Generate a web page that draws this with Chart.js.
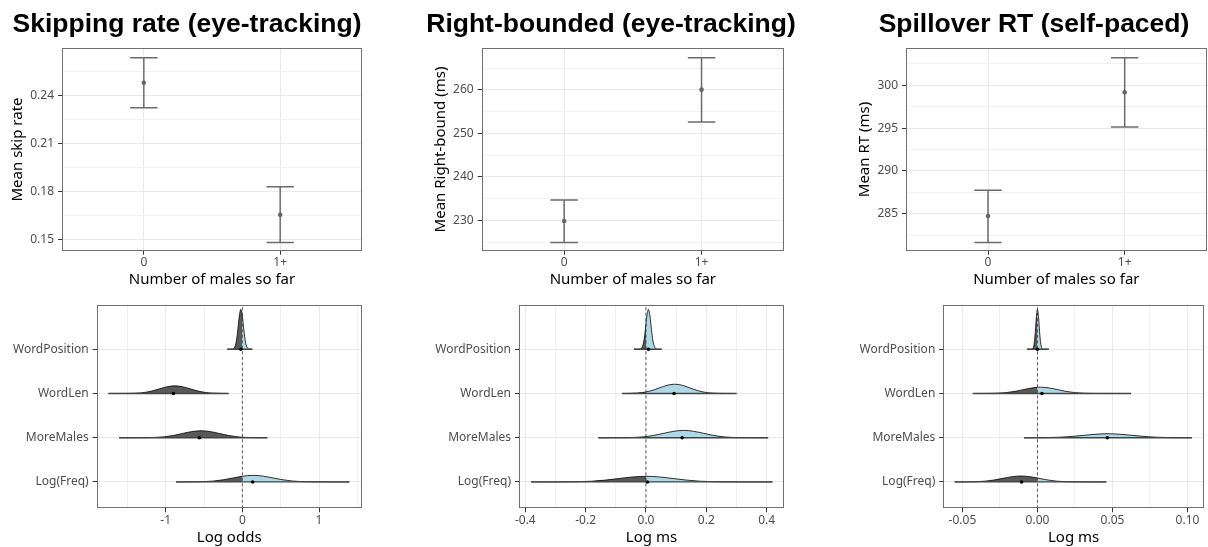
<!DOCTYPE html>
<html>
<head>
<meta charset="utf-8">
<title>Male mentions effects</title>
<script src="https://cdn.jsdelivr.net/npm/chart.js@4.4.1/dist/chart.umd.min.js"></script>
<style>
    html, body { margin: 0; padding: 0; background: #fff; overflow: hidden; }
    body { width: 1208px; height: 547px; position: relative; }
    canvas { position: absolute; }
</style>
</head>
<body>
<canvas id="top1"></canvas>
<canvas id="top2"></canvas>
<canvas id="top3"></canvas>
<canvas id="bot1"></canvas>
<canvas id="bot2"></canvas>
<canvas id="bot3"></canvas>
<script>
// ---- Top row: means with error bars ----
const groups = ['0', '1+'];
const groupPos = [1, 2];

const skipMean = [0.2481, 0.1654];
const skipLow = [0.2325, 0.1481];
const skipHigh = [0.2638, 0.1829];

const rbMean = [229.84, 260.08];
const rbLow = [224.93, 252.63];
const rbHigh = [234.67, 267.44];

const rtMean = [284.73, 299.18];
const rtLow = [281.65, 295.13];
const rtHigh = [287.73, 303.23];

const skipTicks = [0.15, 0.18, 0.21, 0.24];
const skipMinor = [0.165, 0.195, 0.225, 0.255];
const skipTickLabels = ['0.15', '0.18', '0.21', '0.24'];
const rbTicks = [230, 240, 250, 260];
const rbMinor = [225, 235, 245, 255, 265];
const rbTickLabels = ['230', '240', '250', '260'];
const rtTicks = [285, 290, 295, 300];
const rtMinor = [282.5, 287.5, 292.5, 297.5, 302.5];
const rtTickLabels = ['285', '290', '295', '300'];

// ---- Bottom row: posterior densities (x, height above baseline) ----
const terms = ['Log(Freq)', 'MoreMales', 'WordLen', 'WordPosition'];
const termPos = [1, 2, 3, 4];

// skipping rate (log odds)
const skipFreqX = [-0.864, -0.64, -0.51, -0.38, -0.25, -0.12, 0, 0.14, 0.27, 0.40, 0.53, 0.66, 0.79, 0.92, 1.395];
const skipFreqH = [0, 0.002, 0.007, 0.020, 0.049, 0.091, 0.13, 0.15, 0.132, 0.091, 0.049, 0.020, 0.007, 0.002, 0];
const skipMaleX = [-1.607, -1.26, -1.14, -1.02, -0.90, -0.78, -0.66, -0.54, -0.42, -0.30, -0.18, -0.06, 0, 0.06, 0.18, 0.326];
const skipMaleH = [0, 0.002, 0.007, 0.021, 0.051, 0.096, 0.139, 0.158, 0.139, 0.096, 0.051, 0.021, 0.012, 0.007, 0.002, 0];
const skipLenX = [-1.747, -1.48, -1.38, -1.28, -1.18, -1.08, -0.98, -0.88, -0.78, -0.68, -0.58, -0.48, -0.38, -0.28, -0.18];
const skipLenH = [0, 0.002, 0.008, 0.023, 0.056, 0.105, 0.153, 0.173, 0.153, 0.105, 0.056, 0.023, 0.008, 0.002, 0];
const skipPosX = [-0.196, -0.14, -0.12, -0.10, -0.08, -0.06, -0.04, -0.02, 0, 0.02, 0.04, 0.06, 0.08, 0.10, 0.13];
const skipPosH = [0, 0.002, 0.01, 0.048, 0.17, 0.43, 0.75, 0.9, 0.75, 0.43, 0.17, 0.048, 0.01, 0.002, 0];
const skipMedians = [0.135, -0.56, -0.90, -0.02];

// right-bounded (log ms)
const rbFreqX = [-0.381, -0.27, -0.225, -0.18, -0.135, -0.09, -0.045, 0, 0.045, 0.09, 0.135, 0.18, 0.225, 0.27, 0.419];
const rbFreqH = [0, 0.0014, 0.0056, 0.017, 0.042, 0.078, 0.113, 0.128, 0.113, 0.078, 0.042, 0.017, 0.0056, 0.0014, 0];
const rbMaleX = [-0.158, -0.07, -0.0375, -0.005, 0, 0.0275, 0.06, 0.0925, 0.125, 0.1575, 0.19, 0.2225, 0.255, 0.2875, 0.32, 0.405];
const rbMaleH = [0, 0.002, 0.007, 0.022, 0.026, 0.054, 0.101, 0.146, 0.166, 0.146, 0.101, 0.054, 0.022, 0.007, 0.002, 0];
const rbLenX = [-0.079, -0.055, -0.03, -0.005, 0, 0.02, 0.045, 0.07, 0.095, 0.12, 0.145, 0.17, 0.195, 0.22, 0.245, 0.30];
const rbLenH = [0, 0.002, 0.009, 0.028, 0.035, 0.068, 0.127, 0.185, 0.21, 0.185, 0.127, 0.068, 0.028, 0.009, 0.002, 0];
const rbPosX = [-0.04, -0.022, -0.017, -0.012, -0.007, -0.002, 0, 0.003, 0.008, 0.013, 0.018, 0.023, 0.028, 0.033, 0.038, 0.052];
const rbPosH = [0, 0.002, 0.012, 0.057, 0.19, 0.45, 0.58, 0.757, 0.9, 0.757, 0.45, 0.19, 0.057, 0.012, 0.002, 0];
const rbMedians = [0.005, 0.12, 0.093, 0.008];

// spillover RT (log ms)
const rtFreqX = [-0.0552, -0.047, -0.041, -0.035, -0.029, -0.023, -0.017, -0.011, -0.005, 0, 0.001, 0.007, 0.013, 0.019, 0.025, 0.0459];
const rtFreqH = [0, 0.0015, 0.006, 0.018, 0.044, 0.082, 0.119, 0.135, 0.119, 0.089, 0.082, 0.044, 0.018, 0.006, 0.0015, 0];
const rtMaleX = [-0.009, -0.001, 0, 0.007, 0.015, 0.023, 0.031, 0.039, 0.047, 0.055, 0.063, 0.071, 0.079, 0.087, 0.095, 0.103];
const rtMaleH = [0, 0.001, 0.0012, 0.004, 0.012, 0.029, 0.055, 0.079, 0.09, 0.079, 0.055, 0.029, 0.012, 0.004, 0.001, 0];
const rtLenX = [-0.0431, -0.033, -0.027, -0.021, -0.015, -0.0095, -0.004, 0, 0.002, 0.008, 0.0135, 0.019, 0.025, 0.031, 0.037, 0.0624];
const rtLenH = [0, 0.0014, 0.0061, 0.019, 0.048, 0.087, 0.124, 0.141, 0.143, 0.124, 0.087, 0.048, 0.019, 0.0061, 0.0014, 0];
const rtPosX = [-0.0069, -0.0042, -0.0035, -0.0028, -0.0021, -0.0014, -0.0007, 0, 0.0007, 0.0014, 0.0021, 0.0028, 0.0035, 0.0042, 0.0075];
const rtPosH = [0, 0.0006, 0.0057, 0.035, 0.146, 0.40, 0.735, 0.9, 0.735, 0.40, 0.146, 0.035, 0.0057, 0.0006, 0];
const rtMedians = [-0.0106, 0.0466, 0.003, 0.0];

const logOddsTicks = [-1, 0, 1];
const logOddsMinor = [-1.5, -0.5, 0.5, 1.5];
const logOddsLabels = ['-1', '0', '1'];
const rbMsTicks = [-0.4, -0.2, 0, 0.2, 0.4];
const rbMsMinor = [-0.3, -0.1, 0.1, 0.3];
const rbMsLabels = ['-0.4', '-0.2', '0.0', '0.2', '0.4'];
const rtMsTicks = [-0.05, 0, 0.05, 0.1];
const rtMsMinor = [-0.025, 0.025, 0.075];
const rtMsLabels = ['-0.05', '0.00', '0.05', '0.10'];

const zeroLine = 0;

// ---- styles ----
const GRID_MAJOR = '#e9e9e9';
const GRID_MINOR = '#f1f1f1';
const TICK_COLOR = '#333333';
const BORDER_COLOR = '#707070';
const BAR_COLOR = '#6b6b6b';
const POINT_COLOR = '#666666';
const NEG_FILL = '#595959';
const POS_FILL = '#add8e6';
const CAP_HALF = 0.1;

Chart.defaults.font.family = '"Noto Sans", sans-serif';
Chart.defaults.font.size = 12;
Chart.defaults.color = '#4d4d4d';
Chart.defaults.animation = false;
Chart.defaults.plugins.legend.display = false;
Chart.defaults.plugins.tooltip.enabled = false;

function makeCanvas(id, left, top, width, height) {
    const c = document.getElementById(id);
    c.width = width;
    c.height = height;
    c.style.left = left + 'px';
    c.style.top = top + 'px';
    c.style.width = width + 'px';
    c.style.height = height + 'px';
    return c;
}

// Linear axis with explicit major/minor ticks
function axis(opts) {
    const all = opts.major.concat(opts.minor).sort((a, b) => a - b);
    const isMajor = c => c.tick && opts.major.indexOf(c.tick.value) !== -1;
    const horizontal = opts.position === 'bottom';
    return {
        type: 'linear',
        axis: horizontal ? 'x' : 'y',
        position: opts.position,
        min: opts.min,
        max: opts.max,
        afterBuildTicks: s => { s.ticks = all.map(v => ({ value: v })); },
        afterFit: s => {
            if (horizontal) {
                s.height = opts.size;
                s.paddingLeft = 0;
                s.paddingRight = 0;
            } else {
                s.width = opts.size;
                s.paddingTop = 0;
                s.paddingBottom = 0;
            }
        },
        grid: {
            color: c => isMajor(c) ? GRID_MAJOR : GRID_MINOR,
            lineWidth: 1,
            drawTicks: true,
            tickLength: 4,
            tickWidth: 1,
            tickColor: c => isMajor(c) ? TICK_COLOR : 'rgba(0,0,0,0)'
        },
        border: { display: false },
        ticks: {
            autoSkip: false,
            maxRotation: 0,
            minRotation: 0,
            padding: opts.labelPad,
            color: '#4d4d4d',
            font: { size: 12 },
            callback: v => {
                const i = opts.major.indexOf(v);
                return i === -1 ? '' : opts.labels[i];
            }
        },
        title: opts.title ? {
            display: true,
            text: opts.title,
            color: '#000',
            font: { size: 15 },
            padding: horizontal ? { top: 0, bottom: opts.titlePad } : { top: opts.titlePad, bottom: 0 }
        } : { display: false }
    };
}

// empty axis on the right, only to hold space
function padAxis(w) {
    return {
        type: 'linear',
        axis: 'y',
        position: 'right',
        display: true,
        grid: { display: false, drawTicks: false },
        border: { display: false },
        ticks: { display: false },
        afterFit: s => { s.width = w; s.paddingTop = 0; s.paddingBottom = 0; }
    };
}

const panelBorder = {
    id: 'panelBorder',
    afterDatasetsDraw(chart) {
        const { ctx, chartArea: a } = chart;
        const l = Math.round(a.left) + 0.5, t = Math.round(a.top) + 0.5;
        const r = Math.round(a.right) - 0.5, b = Math.round(a.bottom) - 0.5;
        ctx.save();
        ctx.strokeStyle = BORDER_COLOR;
        ctx.lineWidth = 1;
        ctx.strokeRect(l, t, r - l, b - t);
        ctx.restore();
    }
};

function errorBarPlugin(low, high) {
    return {
        id: 'errorBars',
        beforeDatasetsDraw(chart) {
            const { ctx, scales: { x, y } } = chart;
            ctx.save();
            ctx.strokeStyle = BAR_COLOR;
            ctx.lineWidth = 1.5;
            groupPos.forEach((g, i) => {
                const cx = x.getPixelForValue(g);
                const half = x.getPixelForValue(g + CAP_HALF) - cx;
                const yl = y.getPixelForValue(low[i]);
                const yh = y.getPixelForValue(high[i]);
                ctx.beginPath();
                ctx.moveTo(cx, yl); ctx.lineTo(cx, yh);
                ctx.moveTo(cx - half, yl); ctx.lineTo(cx + half, yl);
                ctx.moveTo(cx - half, yh); ctx.lineTo(cx + half, yh);
                ctx.stroke();
            });
            ctx.restore();
        }
    };
}

// ---- top charts ----
const topPanels = [
    { id: 'top1', left: -3, width: 380, yW: 65, rW: 15, titlePad: 11.7,
      title: 'Skipping rate (eye-tracking)', yTitle: 'Mean skip rate', yMin: 0.1429, yMax: 0.2697,
      major: skipTicks, minor: skipMinor, labels: skipTickLabels, mean: skipMean, low: skipLow, high: skipHigh },
    { id: 'top2', left: 421, width: 380, yW: 60.7, rW: 17, titlePad: 10.9,
      title: 'Right-bounded (eye-tracking)', yTitle: 'Mean Right-bound (ms)', yMin: 223.02, yMax: 269.59,
      major: rbTicks, minor: rbMinor, labels: rbTickLabels, mean: rbMean, low: rbLow, high: rbHigh },
    { id: 'top3', left: 844, width: 380, yW: 62, rW: 17.3, titlePad: 11.9,
      title: 'Spillover RT (self-paced)', yTitle: 'Mean RT (ms)', yMin: 280.68, yMax: 304.32,
      major: rtTicks, minor: rtMinor, labels: rtTickLabels, mean: rtMean, low: rtLow, high: rtHigh }
];

topPanels.forEach(p => {
    const canvas = makeCanvas(p.id, p.left, 0, p.width, 292);
    new Chart(canvas, {
        type: 'scatter',
        data: {
            datasets: [{
                data: p.mean.map((m, i) => ({ x: groupPos[i], y: m })),
                xAxisID: 'x',
                yAxisID: 'y',
                pointRadius: 2.3,
                pointBackgroundColor: POINT_COLOR,
                pointBorderWidth: 0
            }]
        },
        options: {
            responsive: false,
            devicePixelRatio: 1,
            layout: { padding: 0 },
            plugins: {
                title: {
                    display: true,
                    text: p.title,
                    align: 'center',
                    color: '#000',
                    font: { family: '"Liberation Sans", Arial, sans-serif', size: 26.5, weight: 'bold' },
                    padding: { top: 8.4, bottom: 8.1 }
                }
            },
            scales: {
                x: axis({ position: 'bottom', min: 0.4, max: 2.6, major: groupPos, minor: [], labels: groups,
                          size: 41.3, title: 'Number of males so far', titlePad: 2.8, labelPad: 0.7 }),
                y: axis({ position: 'left', min: p.yMin, max: p.yMax, major: p.major, minor: p.minor, labels: p.labels,
                          size: p.yW, title: p.yTitle, titlePad: p.titlePad, labelPad: 4 }),
                pad: padAxis(p.rW)
            }
        },
        plugins: [errorBarPlugin(p.low, p.high), panelBorder]
    });
});

// ---- bottom charts ----
const Y_MIN = 0.405, Y_MAX = 5.0;

function ridgeDatasets(ridges, medians) {
    const sets = [];
    sets.push({
        data: [{ x: zeroLine, y: Y_MIN }, { x: zeroLine, y: Y_MAX }],
        borderColor: '#333', borderWidth: 0.8, borderDash: [3, 2.5], pointRadius: 0, fill: false, order: 0
    });
    sets.push({
        data: medians.map((m, i) => ({ x: m, y: termPos[i] })),
        showLine: false, pointRadius: 1.8, pointBackgroundColor: '#000', pointBorderWidth: 0, order: 1
    });
    ridges.forEach((r, i) => {
        const base = termPos[i];
        const pts = r.x.map((x, j) => ({ x: x, y: base + r.h[j] }));
        const neg = pts.filter(pt => pt.x <= 0);
        const pos = pts.filter(pt => pt.x >= 0);
        const fillSet = (data, color) => ({
            data: data, fill: { value: base }, backgroundColor: color, borderWidth: 0,
            pointRadius: 0, cubicInterpolationMode: 'monotone', order: 4
        });
        if (neg.length > 1) sets.push(fillSet(neg, NEG_FILL));
        if (pos.length > 1) sets.push(fillSet(pos, POS_FILL));
        sets.push({
            data: pts, fill: false, borderColor: '#000', borderWidth: 0.8,
            pointRadius: 0, cubicInterpolationMode: 'monotone', order: 3
        });
        sets.push({
            data: [{ x: r.x[0], y: base }, { x: r.x[r.x.length - 1], y: base }],
            fill: false, borderColor: '#444', borderWidth: 1.3, pointRadius: 0, order: 2
        });
    });
    sets.forEach(s => { s.xAxisID = 'x'; s.yAxisID = 'y'; });
    return sets;
}

const bottomPanels = [
    { id: 'bot1', left: 0, width: 370, yW: 96.7, rW: 8.3, xMin: -1.9, xMax: 1.5565, xTitle: 'Log odds',
      major: logOddsTicks, minor: logOddsMinor, labels: logOddsLabels, medians: skipMedians,
      ridges: [{ x: skipFreqX, h: skipFreqH }, { x: skipMaleX, h: skipMaleH }, { x: skipLenX, h: skipLenH }, { x: skipPosX, h: skipPosH }] },
    { id: 'bot2', left: 402, width: 390, yW: 117, rW: 8, xMin: -0.421, xMax: 0.4575, xTitle: 'Log ms',
      major: rbMsTicks, minor: rbMsMinor, labels: rbMsLabels, medians: rbMedians,
      ridges: [{ x: rbFreqX, h: rbFreqH }, { x: rbMaleX, h: rbMaleH }, { x: rbLenX, h: rbLenH }, { x: rbPosX, h: rbPosH }] },
    { id: 'bot3', left: 805, width: 403, yW: 138.3, rW: 1.3, xMin: -0.06276, xMax: 0.111, xTitle: 'Log ms',
      major: rtMsTicks, minor: rtMsMinor, labels: rtMsLabels, medians: rtMedians,
      ridges: [{ x: rtFreqX, h: rtFreqH }, { x: rtMaleX, h: rtMaleH }, { x: rtLenX, h: rtLenH }, { x: rtPosX, h: rtPosH }] }
];

bottomPanels.forEach(p => {
    const canvas = makeCanvas(p.id, p.left, 292, p.width, 255);
    new Chart(canvas, {
        type: 'line',
        data: { datasets: ridgeDatasets(p.ridges, p.medians) },
        options: {
            responsive: false,
            devicePixelRatio: 1,
            layout: { padding: { top: 13, left: 0, right: 0, bottom: 0 } },
            elements: { point: { radius: 0 } },
            scales: {
                x: axis({ position: 'bottom', min: p.xMin, max: p.xMax, major: p.major, minor: p.minor, labels: p.labels,
                          size: 38.7, title: p.xTitle, titlePad: 0.6, labelPad: 1.2 }),
                y: axis({ position: 'left', min: Y_MIN, max: Y_MAX, major: termPos, minor: [], labels: terms,
                          size: p.yW, title: null, labelPad: 4 }),
                pad: padAxis(p.rW)
            }
        },
        plugins: [panelBorder]
    });
});
</script>
</body>
</html>
